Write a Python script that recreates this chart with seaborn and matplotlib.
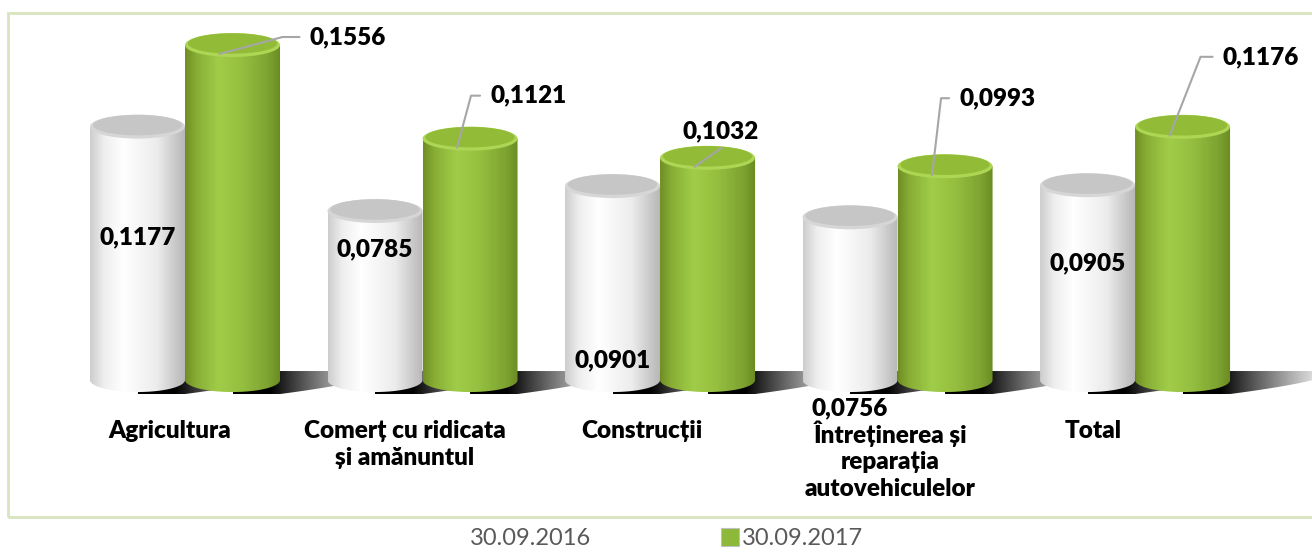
import numpy as np
import pandas as pd
import seaborn as sns
import matplotlib.pyplot as plt
from matplotlib.patches import Ellipse, Polygon, Rectangle, Patch
from matplotlib.colors import LinearSegmentedColormap

categories = ["Agricultura", "Comerț cu ridicata\nși amănuntul", "Construcții",
              "Întreținerea și\nreparația\nautovehiculelor", "Total"]
periods = ["30.09.2016", "30.09.2017"]
values_2016 = [0.1177, 0.0785, 0.0901, 0.0756, 0.0905]
values_2017 = [0.1556, 0.1121, 0.1032, 0.0993, 0.1176]
labels_2016 = ["0,1177", "0,0785", "0,0901", "0,0756", "0,0905"]
labels_2017 = ["0,1556", "0,1121", "0,1032", "0,0993", "0,1176"]

df = pd.DataFrame({
    "cat": categories * 2,
    "val": values_2016 + values_2017,
    "period": [periods[0]] * 5 + [periods[1]] * 5,
})

sns.set_theme(style="white")
plt.rcParams['font.family'] = ['Lato', 'DejaVu Sans']

fig = plt.figure(figsize=(13.12, 5.54), dpi=100)
ax = fig.add_axes([0, 0, 1, 1])
sns.barplot(data=df, x="cat", y="val", hue="period", palette=["#f2f2f2", "#8db83a"],
            width=0.8, saturation=1, legend=False, ax=ax)
ax.set_xlim(-0.779, 4.745)
ax.set_ylim(-0.0808, 0.1765)
ax.axis("off")

# size of one pixel in data units
px = (4.745 + 0.779) / 1312
py = (0.1765 + 0.0808) / 554

body_cmaps = [
    LinearSegmentedColormap.from_list("w", [(0, "#cdcdcd"), (0.15, "#efefef"), (0.35, "#ffffff"),
                                            (0.7, "#ececec"), (1, "#b5b5b5")]),
    LinearSegmentedColormap.from_list("g", [(0, "#6f8e24"), (0.12, "#88ae35"), (0.35, "#a0cd49"),
                                            (0.6, "#94bf3f"), (0.88, "#7da130"), (1, "#698a21")]),
]
top_colors = [("#d6d6d6", "#c6c6c6"), ("#acd653", "#92bc38")]

ry = 12 * py
grad = np.linspace(0, 1, 256).reshape(1, -1)
for k, cont in enumerate(ax.containers):
    for bar in cont:
        x0, w, h = bar.get_x(), bar.get_width(), bar.get_height()
        xc = x0 + w / 2
        bar.set_visible(False)
        z = 3 + k

        # shadow on the floor
        tip = x0 + w + 105 * px
        t = np.linspace(0, 1, 40)
        curve = [(tip - (tip - x0 - w) * s, 9 * py - 23 * py * s ** 0.6) for s in t]
        sh = Polygon([(xc, 9 * py), (tip, 9 * py)] + curve + [(xc, -14 * py)],
                     closed=True, facecolor="none", edgecolor="none")
        ax.add_patch(sh)
        rgba = np.zeros((1, 256, 4))
        rgba[..., 3] = np.clip(1.4 * (1 - np.linspace(0, 1, 256)) ** 1.2, 0, 1)
        im = ax.imshow(rgba, extent=[xc, tip, -14 * py, 9 * py], aspect="auto", zorder=2)
        im.set_clip_path(sh)

        # cylinder body
        th = np.linspace(0, np.pi, 60)
        bottom = list(zip(xc + w / 2 * np.cos(th), -ry * np.sin(th)))
        body = Polygon([(x0, h), (x0 + w, h)] + bottom, closed=True,
                       facecolor="none", edgecolor="none")
        ax.add_patch(body)
        im = ax.imshow(grad, cmap=body_cmaps[k], extent=[x0, x0 + w, -ry, h],
                       aspect="auto", zorder=z)
        im.set_clip_path(body)

        # top cap
        ax.add_patch(Ellipse((xc, h), w, 2 * ry, facecolor=top_colors[k][0],
                             edgecolor="none", zorder=z + 0.1))
        ax.add_patch(Ellipse((xc, h + 1.5 * py), w * 0.94, 2 * ry * 0.85,
                             facecolor=top_colors[k][1], edgecolor="none", zorder=z + 0.2))

ax.set_xlim(-0.779, 4.745)
ax.set_ylim(-0.0808, 0.1765)

label_kw = dict(fontsize=17.5, fontweight="heavy", color="black")

# value labels of the 2016 bars
white_label_y = [0.0664, 0.0608, 0.0093, -0.013, 0.0543]
for bar, txt, ly in zip(ax.containers[0], labels_2016, white_label_y):
    ax.text(bar.get_x() + bar.get_width() / 2, ly, txt, ha="center", va="center",
            zorder=10, **label_kw)

# value labels of the 2017 bars with leader lines (offsets in pixels)
green_elbow = [(50, 8), (1, 43), (None, None), (-4, 68), (18, 70)]
green_text = [(77, 8), (20, 43), (13, 27), (14, 68), (40, 70)]
for i, (bar, txt) in enumerate(zip(ax.containers[1], labels_2017)):
    xc = bar.get_x() + bar.get_width() / 2
    h = bar.get_height()
    sx, sy = xc - 13 * px, h - 9 * py
    tx, ty = green_text[i]
    ex, ey = green_elbow[i]
    if ex is None:
        ax.plot([sx, xc + 14 * px], [sy, h + 10 * py], color="#a6a6a6", lw=1.5, zorder=10)
        ax.text(xc + tx * px, h + ty * py, txt, ha="center", va="center", zorder=10, **label_kw)
    else:
        ax.plot([sx, xc + ex * px, xc + (tx - 10) * px], [sy, h + ey * py, h + ey * py],
                color="#a6a6a6", lw=1.5, zorder=10)
        ax.text(xc + tx * px, h + ty * py, txt, ha="left", va="center", zorder=10, **label_kw)

# category labels
cat_dx = [-15, -18, -18, -7, -42]
for i, (cat, dx) in enumerate(zip(categories, cat_dx)):
    ax.text(i + dx * px, -40 * py, cat, ha="center", va="top", multialignment="center",
            linespacing=1.25, zorder=10, **label_kw)

# chart frame
fig.patches.append(Rectangle((8 / 1312, 37 / 554), 1.0, 504 / 554, transform=fig.transFigure,
                             facecolor="none", edgecolor="#d7e4bd", lw=2))

handles = [Patch(facecolor="white", edgecolor="none"),
           Patch(facecolor="#8db83a", edgecolor="#c0c0c0", lw=0.8)]
fig.legend(handles, periods, loc="lower center", ncol=2, frameon=False,
           bbox_to_anchor=(0.5, -0.03), fontsize=17, labelcolor="#595959",
           handlelength=0.75, handleheight=0.75, handletextpad=0.15, columnspacing=5.5)

fig.savefig("out.png", dpi=100)
